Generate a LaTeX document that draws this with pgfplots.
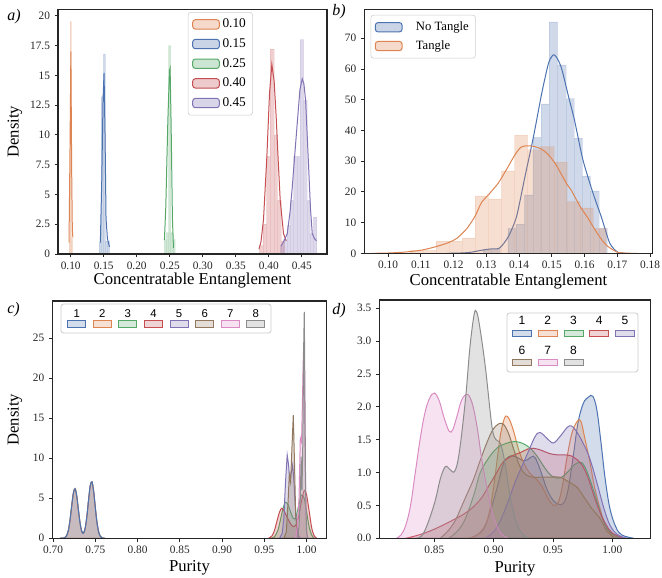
\documentclass[border=0pt]{standalone}
\usepackage{pgfplots}
\pgfplotsset{compat=1.18}
\usepackage{fontspec}
\setmainfont{Liberation Serif}
\newfontfamily\legsans{Liberation Sans}
\definecolor{cB}{HTML}{4C72B0}
\definecolor{cO}{HTML}{DD8452}
\definecolor{cG}{HTML}{55A868}
\definecolor{cR}{HTML}{C44E52}
\definecolor{cP}{HTML}{8172B3}
\definecolor{cN}{HTML}{937860}
\definecolor{cK}{HTML}{DA8BC3}
\definecolor{cA}{HTML}{8C8C8C}
\pgfplotsset{
  panel/.style={
    scale only axis, anchor=south west,
    axis line style={black!85, line width=0.9pt},
    tick align=outside, major tick length=2.5pt,
    tick style={black!85, line width=0.6pt},
    xtick pos=bottom, ytick pos=left,
    ticklabel style={font=\fontsize{8.5}{10}\selectfont, text=black!85},
    label style={font=\fontsize{12.5}{14}\selectfont},
    /pgf/number format/assume math mode=true,
    scaled ticks=false, axis on top,
  },
  twodec/.style={x tick label style={/pgf/number format/.cd, fixed, fixed zerofill, precision=2, /tikz/.cd}},
  patchleg/.style={legend image code/.code={\draw[##1] (0pt,-3.5pt) rectangle (20pt,3.5pt);}},
  kde/.style={line width=0.75pt},
  hist/.style={ybar interval, fill=#1, fill opacity=0.27, draw=#1, draw opacity=0.12, line width=0.4pt, forget plot},
  kfill/.style={draw=#1, fill=#1, fill opacity=0.25, line width=0.75pt, forget plot},
}
\begin{document}
\begin{tikzpicture}
\useasboundingbox (0,0) rectangle (496.5pt,433.5pt);
% ---------------- panel a
\begin{axis}[panel, twodec, at={(43.5pt,243pt)}, width=201.75pt, height=183.5pt,
  xmin=0.0808, xmax=0.488, ymin=0, ymax=20.54,
  xtick={0.10,0.15,0.20,0.25,0.30,0.35,0.40,0.45},
  ytick={0,2.5,5,7.5,10,12.5,15,17.5,20},
  xlabel={Concentratable Entanglement}, ylabel={Density},
  xlabel style={at={(axis description cs:0.5,-0.11)}, anchor=center},
  ylabel style={at={(axis description cs:-0.16,0.5)}, anchor=center},
  legend style={at={(0.483,0.989)}, anchor=north west, draw=black!20, rounded corners=2pt, fill=white,
    font=\fontsize{10}{11}\selectfont, row sep=2.6pt, inner sep=3pt},
  legend cell align=left]
\addplot[hist=cO] coordinates {(0.0975,1.0)(0.0990,19.5)(0.1012,1.4)(0.1030,0)};
\addplot[kde, cO, forget plot] coordinates {(0.0975,0.95)(0.0990,9)(0.1003,17)(0.1015,7)(0.1025,2)(0.1033,1.4)};
\addplot[hist=cB] coordinates {(0.1430,1.0)(0.1462,13.2)(0.1494,16.8)(0.1526,1.1)(0.1558,1.1)(0.1590,0)};
\addplot[kde, cB, forget plot] coordinates {(0.1449,0.95)(0.1470,6)(0.1490,13)(0.1505,15.2)(0.1520,10)(0.1535,3)(0.1556,1.3)(0.1586,0.6)};
\addplot[hist=cG] coordinates {(0.2418,1.2)(0.2450,1.8)(0.2482,17.5)(0.2514,1.8)(0.2546,1.2)(0.2578,0)};
\addplot[kde, cG, forget plot] coordinates {(0.2419,1.17)(0.2440,4)(0.2470,11)(0.2495,15.4)(0.2505,15.6)(0.2520,11)(0.2540,3)(0.2556,0.5)};
\addplot[hist=cR] coordinates {(0.3855,0.7)(0.3910,2.5)(0.3965,8.2)(0.4020,17.2)(0.4075,10)(0.4130,4.5)(0.4185,1.1)(0.4240,0)};
\addplot[kde, cR, forget plot] coordinates {(0.3850,0.4)(0.3880,1.0)(0.3919,2.9)(0.3970,8.2)(0.4010,13.5)(0.4045,15.9)(0.4080,14.5)(0.4111,11.5)(0.4140,8)(0.4172,4.5)(0.4222,1.7)(0.4263,1.1)};
\addplot[hist=cP] coordinates {(0.4175,0.7)(0.4225,1.2)(0.4275,2.4)(0.4325,4.5)(0.4375,8.2)(0.4425,8.2)(0.4475,18)(0.4525,12.9)(0.4575,4.5)(0.4625,1.7)(0.4675,3.1)(0.4725,0)};
\addplot[kde, cP, forget plot] coordinates {(0.4187,0.67)(0.4230,1.1)(0.4278,1.7)(0.4320,3.5)(0.4354,5.6)(0.4390,8.2)(0.4430,11)(0.4470,13.8)(0.4505,14.7)(0.4530,14.3)(0.4556,12.9)(0.4580,10)(0.4606,6.8)(0.4630,3.8)(0.4657,1.7)(0.4690,1.3)(0.4722,1.1)};
\addlegendimage{patchleg, draw=cO, fill=cO!30, line width=0.75pt}\addlegendentry{0.10}
\addlegendimage{patchleg, draw=cB, fill=cB!30, line width=0.75pt}\addlegendentry{0.15}
\addlegendimage{patchleg, draw=cG, fill=cG!30, line width=0.75pt}\addlegendentry{0.25}
\addlegendimage{patchleg, draw=cR, fill=cR!30, line width=0.75pt}\addlegendentry{0.40}
\addlegendimage{patchleg, draw=cP, fill=cP!30, line width=0.75pt}\addlegendentry{0.45}
\end{axis}
% ---------------- panel b
\begin{axis}[panel, twodec, at={(273.2pt,243.5pt)}, width=216.3pt, height=183pt,
  xmin=0.0927, xmax=0.1808, ymin=0, ymax=79.4,
  xtick={0.10,0.11,0.12,0.13,0.14,0.15,0.16,0.17,0.18},
  ytick={0,10,20,30,40,50,60,70},
  xlabel={Concentratable Entanglement},
  xlabel style={at={(axis description cs:0.5,-0.1135)}, anchor=center},
  legend style={at={(0.022,0.977)}, anchor=north west, draw=black!20, rounded corners=2pt, fill=white,
    font=\fontsize{9.5}{11}\selectfont, row sep=2pt, inner sep=3pt,
    /tikz/every odd column/.append style={column sep=8pt}},
  legend cell align=left]
\addplot[hist=cB] coordinates {(0.1290,1.3)(0.1315,1.3)(0.1341,0)(0.1366,8.1)(0.1391,9.5)(0.1416,19.0)(0.1442,37.7)(0.1467,48.6)(0.1492,75.3)(0.1518,61.3)(0.1543,50.3)(0.1568,37.5)(0.1593,25.2)(0.1618,20.3)(0.1644,8.1)(0.1669,0)};
\addplot[kde, cB, smooth, tension=0.4, forget plot] coordinates {(0.118,0)(0.122,0.1)(0.125,0.3)(0.128,0.9)(0.131,1.4)(0.134,1.7)(0.1367,5.4)(0.1392,11.9)(0.1418,25)(0.1444,38)(0.1469,52)(0.1490,61.9)(0.1505,64.6)(0.1518,63.2)(0.1531,59.7)(0.1551,51)(0.1569,43.4)(0.1595,30.4)(0.1626,19.5)(0.1651,11.9)(0.1677,3.3)(0.1702,0.3)(0.173,0)};
\addplot[hist=cO] coordinates {(0.1066,1.0)(0.1106,1.0)(0.1146,4.0)(0.1186,4.0)(0.1226,5.0)(0.1266,18.7)(0.1306,17.7)(0.1346,26.8)(0.1386,38.5)(0.1426,33.7)(0.1466,34.7)(0.1506,29.7)(0.1546,16.8)(0.1586,14.8)(0.1626,8.1)(0.1666,0)};
\addplot[kde, cO, smooth, tension=0.4, forget plot] coordinates {(0.095,0)(0.100,0.1)(0.105,0.4)(0.110,1.0)(0.114,2.0)(0.118,3.3)(0.121,4.9)(0.124,8)(0.1265,12)(0.1285,16.5)(0.131,19.5)(0.1336,22.8)(0.136,27)(0.1387,32)(0.1405,34.5)(0.1423,35)(0.1445,34.8)(0.1469,33.9)(0.149,32)(0.151,29.3)(0.1525,26.5)(0.1546,22.5)(0.1559,20.6)(0.1585,15.5)(0.161,11.5)(0.1626,8.7)(0.1645,5.5)(0.1666,2.7)(0.169,0.9)(0.1702,0.3)(0.173,0.05)(0.176,0)};
\addlegendimage{patchleg, draw=cB, fill=cB!30, line width=0.75pt}\addlegendentry{No Tangle}
\addlegendimage{patchleg, draw=cO, fill=cO!30, line width=0.75pt}\addlegendentry{Tangle}
\end{axis}
% ---------------- panel c
\begin{axis}[panel, twodec, at={(39.2pt,29.8pt)}, width=205.8pt, height=178pt,
  xmin=0.699, xmax=1.0237, ymin=0, ymax=29.66,
  xtick={0.70,0.75,0.80,0.85,0.90,0.95,1.00},
  ytick={0,5,10,15,20,25},
  xlabel={Purity}, ylabel={Density},
  xlabel style={at={(axis description cs:0.5,-0.125)}, anchor=center},
  ylabel style={at={(axis description cs:-0.136,0.5)}, anchor=center}]
\addplot[kfill=cB, fill opacity=0.35, smooth] coordinates {(0.708,0)(0.712,0.02)(0.714,0.09)(0.716,0.33)(0.718,0.97)(0.720,2.25)(0.722,4.04)(0.724,5.66)(0.726,6.18)(0.728,5.26)(0.730,3.48)(0.732,1.82)(0.734,0.83)(0.736,0.65)(0.738,1.28)(0.740,2.77)(0.742,4.84)(0.744,6.62)(0.746,7.04)(0.748,5.84)(0.750,3.77)(0.752,1.90)(0.754,0.74)(0.756,0.23)(0.758,0.05)(0.761,0)} \closedcycle;
\addplot[kfill=cO, smooth] coordinates {(0.708,0)(0.712,0.02)(0.714,0.09)(0.716,0.33)(0.718,0.97)(0.720,2.25)(0.722,4.04)(0.724,5.68)(0.726,6.22)(0.728,5.28)(0.730,3.48)(0.732,1.82)(0.734,0.83)(0.736,0.65)(0.738,1.28)(0.740,2.77)(0.742,4.84)(0.744,6.60)(0.746,7.00)(0.748,5.82)(0.750,3.77)(0.752,1.90)(0.754,0.74)(0.756,0.23)(0.758,0.05)(0.761,0)} \closedcycle;
\addplot[kde, cB, smooth, forget plot] coordinates {(0.708,0)(0.712,0.02)(0.714,0.09)(0.716,0.33)(0.718,0.97)(0.720,2.25)(0.722,4.04)(0.724,5.66)(0.726,6.18)(0.728,5.26)(0.730,3.48)(0.732,1.82)(0.734,0.83)(0.736,0.65)(0.738,1.28)(0.740,2.77)(0.742,4.84)(0.744,6.62)(0.746,7.04)(0.748,5.84)(0.750,3.77)(0.752,1.90)(0.754,0.74)(0.756,0.23)(0.758,0.05)(0.761,0)};
\addplot[kfill=cG, smooth, tension=0.5] coordinates {(0.958,0)(0.962,0.2)(0.966,1.0)(0.969,2.3)(0.972,3.7)(0.975,4.5)(0.978,4.2)(0.981,3.3)(0.984,2.5)(0.986,2.4)(0.988,2.9)(0.991,4.3)(0.994,5.4)(0.997,5.0)(1.000,3.3)(1.003,1.4)(1.006,0.4)(1.009,0)} \closedcycle;
\addplot[kfill=cR, smooth, tension=0.5] coordinates {(0.955,0)(0.959,0.3)(0.962,1.0)(0.965,2.2)(0.968,3.3)(0.9705,3.75)(0.973,3.5)(0.977,2.6)(0.981,1.8)(0.9845,1.45)(0.988,1.8)(0.991,3.0)(0.994,4.7)(0.9965,5.8)(0.998,6.0)(1.000,5.4)(1.003,3.4)(1.006,1.3)(1.009,0.3)(1.012,0)} \closedcycle;
\addplot[kfill=cP] coordinates {(0.968,0)(0.971,0.6)(0.973,2.5)(0.975,7.0)(0.977,10.4)(0.9785,9.3)(0.980,7.3)(0.9815,8.0)(0.9835,9.2)(0.985,7.0)(0.987,3.2)(0.989,1.0)(0.991,0.2)(0.993,0)} \closedcycle;
\addplot[kfill=cN] coordinates {(0.973,0)(0.976,0.8)(0.978,4.5)(0.9795,7.9)(0.981,7.0)(0.9825,11)(0.9842,15.4)(0.9855,10)(0.987,3)(0.989,0.6)(0.991,0)} \closedcycle;
\addplot[kfill=cK] coordinates {(0.987,0)(0.989,1.5)(0.991,5)(0.9925,12.5)(0.994,12.0)(0.9952,18)(0.9962,23.3)(0.9972,20)(0.9982,10)(0.9992,3)(1.0005,0.5)(1.002,0)} \closedcycle;
\addplot[kfill=cA] coordinates {(0.989,0)(0.991,1.5)(0.9925,5)(0.9935,10.2)(0.9945,6)(0.9955,12)(0.9965,24)(0.9972,28.3)(0.998,18)(0.9988,6)(0.9998,1)(1.001,0)} \closedcycle;
\end{axis}
% ---------------- panel d
\begin{axis}[panel, twodec, at={(284.5pt,29.8pt)}, width=203.5pt, height=178.7pt,
  xmin=0.8037, xmax=1.0323, ymin=0, ymax=3.626,
  xtick={0.85,0.90,0.95,1.00},
  ytick={0,0.5,1,1.5,2,2.5,3,3.5},
  y tick label style={/pgf/number format/.cd, fixed, fixed zerofill, precision=1, /tikz/.cd},
  xlabel={Purity},
  xlabel style={at={(axis description cs:0.5,-0.129)}, anchor=center}]
\addplot[kfill=cB, smooth, tension=0.6] coordinates {(0.880,0)(0.886,0.05)(0.892,0.15)(0.897,0.4)(0.9025,0.74)(0.908,1.12)(0.9125,1.24)(0.9166,1.25)(0.921,1.22)(0.925,1.18)(0.929,1.2)(0.9335,1.25)(0.937,1.15)(0.941,0.95)(0.945,0.74)(0.950,0.58)(0.9545,0.52)(0.9588,0.53)(0.9625,0.72)(0.967,1.24)(0.971,1.75)(0.9755,2.05)(0.980,2.15)(0.9836,2.16)(0.987,1.95)(0.9905,1.45)(0.994,0.9)(0.998,0.45)(1.003,0.17)(1.008,0.05)(1.018,0)} \closedcycle;
\addplot[kfill=cO, smooth, tension=0.6] coordinates {(0.878,0)(0.885,0.04)(0.890,0.12)(0.894,0.25)(0.897,0.45)(0.900,0.78)(0.903,1.2)(0.906,1.6)(0.909,1.82)(0.911,1.86)(0.9135,1.8)(0.917,1.62)(0.921,1.35)(0.926,1.12)(0.931,0.98)(0.936,0.9)(0.941,0.78)(0.946,0.6)(0.9505,0.5)(0.9545,0.55)(0.958,0.8)(0.962,1.25)(0.966,1.6)(0.9705,1.78)(0.9735,1.78)(0.9765,1.55)(0.9813,1.14)(0.985,0.78)(0.9897,0.45)(0.994,0.2)(0.999,0.06)(1.004,0)} \closedcycle;
\addplot[kfill=cG, smooth, tension=0.6] coordinates {(0.862,0)(0.866,0.05)(0.870,0.12)(0.874,0.22)(0.878,0.38)(0.884,0.7)(0.8885,0.99)(0.895,1.2)(0.9026,1.37)(0.910,1.44)(0.9166,1.47)(0.922,1.46)(0.927,1.42)(0.932,1.35)(0.937,1.24)(0.942,1.1)(0.947,0.98)(0.952,0.92)(0.9574,0.93)(0.963,1.02)(0.968,1.12)(0.9743,1.15)(0.979,1.0)(0.984,0.74)(0.989,0.45)(0.994,0.2)(0.999,0.08)(1.006,0)} \closedcycle;
\addplot[kfill=cR, smooth, tension=0.6] coordinates {(0.826,0)(0.835,0.04)(0.845,0.1)(0.855,0.18)(0.865,0.27)(0.875,0.37)(0.883,0.48)(0.890,0.62)(0.896,0.8)(0.902,0.98)(0.908,1.16)(0.915,1.25)(0.922,1.3)(0.929,1.36)(0.9335,1.37)(0.940,1.34)(0.947,1.29)(0.9532,1.27)(0.960,1.27)(0.966,1.25)(0.970,1.2)(0.975,1.1)(0.980,0.9)(0.985,0.62)(0.990,0.38)(0.995,0.2)(1.000,0.08)(1.009,0)} \closedcycle;
\addplot[kfill=cP, smooth, tension=0.6] coordinates {(0.893,0)(0.900,0.1)(0.906,0.28)(0.912,0.55)(0.918,0.85)(0.924,1.1)(0.930,1.35)(0.935,1.55)(0.9391,1.61)(0.945,1.52)(0.9503,1.45)(0.956,1.55)(0.9638,1.71)(0.970,1.62)(0.9785,1.33)(0.983,1.1)(0.988,0.78)(0.993,0.45)(0.998,0.2)(1.004,0.06)(1.012,0)} \closedcycle;
\addplot[kfill=cN, smooth, tension=0.6] coordinates {(0.855,0)(0.862,0.12)(0.868,0.28)(0.8717,0.43)(0.877,0.65)(0.8829,0.89)(0.889,1.2)(0.8942,1.45)(0.900,1.67)(0.9068,1.75)(0.912,1.62)(0.917,1.35)(0.922,1.1)(0.927,0.97)(0.933,0.93)(0.940,0.93)(0.948,0.93)(0.956,0.93)(0.963,0.86)(0.970,0.78)(0.976,0.63)(0.982,0.47)(0.9897,0.3)(0.995,0.12)(1.002,0)} \closedcycle;
\addplot[kfill=cK, smooth, tension=0.6] coordinates {(0.818,0)(0.822,0.05)(0.826,0.2)(0.830,0.5)(0.834,1.0)(0.838,1.5)(0.842,1.9)(0.846,2.13)(0.850,2.21)(0.854,2.1)(0.858,1.85)(0.8625,1.63)(0.8655,1.65)(0.869,1.85)(0.873,2.1)(0.8778,2.19)(0.882,2.05)(0.886,1.7)(0.890,1.2)(0.894,0.8)(0.898,0.45)(0.902,0.22)(0.906,0.08)(0.912,0)} \closedcycle;
\addplot[kfill=cA, smooth, tension=0.6] coordinates {(0.835,0)(0.840,0.05)(0.845,0.25)(0.8509,0.58)(0.855,0.9)(0.8593,1.09)(0.863,1.05)(0.8672,1.02)(0.871,1.3)(0.8762,2.1)(0.880,2.9)(0.8835,3.4)(0.8855,3.45)(0.888,3.25)(0.893,2.61)(0.8986,1.7)(0.902,1.5)(0.9056,1.45)(0.909,1.2)(0.9126,0.79)(0.916,0.45)(0.920,0.2)(0.925,0.05)(0.930,0)} \closedcycle;
\end{axis}
% ---------------- manual legends and panel labels (pixel coordinates)
\begin{scope}[x=0.75pt, y=-0.75pt, shift={(0pt,433.5pt)}]
  \draw[black!20, fill=white, rounded corners=2pt, line width=0.6pt] (61,304) rectangle (271,333);
  \foreach \col [count=\i] in {cB,cO,cG,cR,cP,cN,cK,cA} {
    \node[font=\legsans\fontsize{8.5}{9}\selectfont, inner sep=0pt] at ({76.7+25.6*(\i-1)},313.3) {\i};
    \draw[\col, fill=\col!25, line width=0.75pt] ({76.7+25.6*(\i-1)-9},321) rectangle ({76.7+25.6*(\i-1)+9},327.6);
  }
  \draw[black!20, fill=white, rounded corners=2pt, line width=0.6pt] (507,313) rectangle (638,372);
  \foreach \col [count=\i] in {cB,cO,cG,cR,cP} {
    \node[font=\legsans\fontsize{9}{10}\selectfont, inner sep=0pt] at ({522+25.75*(\i-1)},320.7) {\i};
    \draw[\col, fill=\col!25, line width=0.75pt] ({522+25.75*(\i-1)-9.5},330.3) rectangle ({522+25.75*(\i-1)+9.5},336.3);
  }
  \foreach \col [count=\j] in {cN,cK,cA} {
    \pgfmathtruncatemacro{\k}{\j+5}
    \node[font=\legsans\fontsize{9}{10}\selectfont, inner sep=0pt] at ({522+25.75*(\j-1)},350) {\k};
    \draw[\col, fill=\col!25, line width=0.75pt] ({522+25.75*(\j-1)-9.5},359.7) rectangle ({522+25.75*(\j-1)+9.5},365.7);
  }
  \node[font=\itshape\fontsize{12}{14}\selectfont] at (14,17) {a)};
  \node[font=\itshape\fontsize{12}{14}\selectfont] at (339,12) {b)};
  \node[font=\itshape\fontsize{12}{14}\selectfont] at (13.5,309.5) {c)};
  \node[font=\itshape\fontsize{12}{14}\selectfont] at (339,311) {d)};
\end{scope}
\end{tikzpicture}
\end{document}
